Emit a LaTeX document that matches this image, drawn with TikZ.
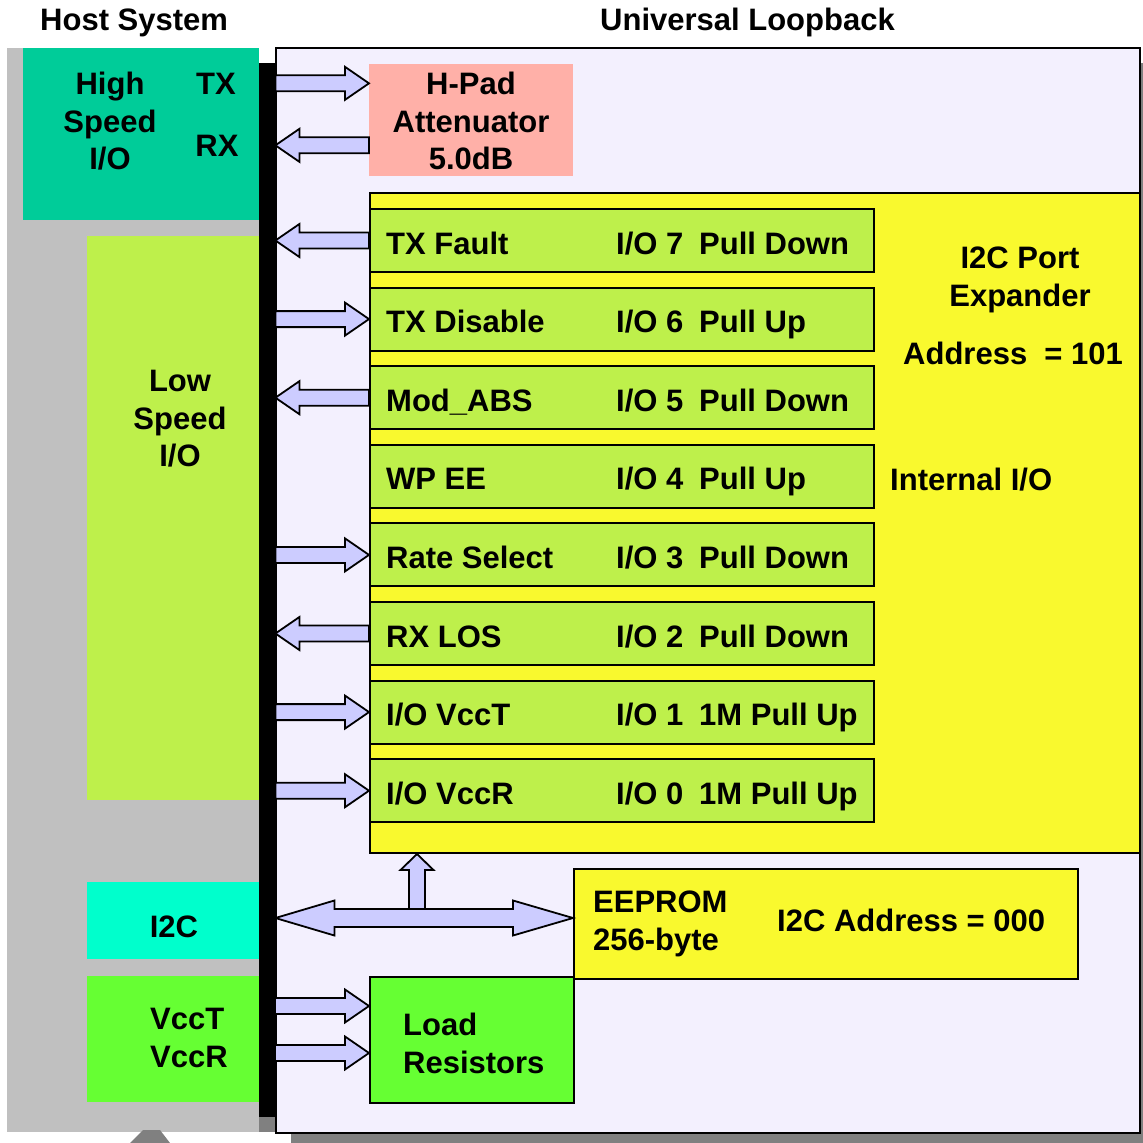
\documentclass[tikz,border=0pt]{standalone}
\usepackage{fontspec}
\setmainfont{Liberation Sans}
\usetikzlibrary{calc}

\definecolor{hostgray}{HTML}{C0C0C0}
\definecolor{shadowgray}{HTML}{808080}
\definecolor{hsio}{HTML}{00CC99}
\definecolor{lsio}{HTML}{BEF04B}
\definecolor{i2cteal}{HTML}{00FFCC}
\definecolor{powergreen}{HTML}{66FF33}
\definecolor{loopback}{HTML}{F3F0FE}
\definecolor{arrowfill}{HTML}{CCCCFF}
\definecolor{padpink}{HTML}{FFB0A8}
\definecolor{chipyellow}{HTML}{F9F92E}

% fat arrow between two points, optional head length
\newcommand\blockarrow[3][24]{%
  \draw[blockarrow] let \p1=(#2), \p2=(#3),
    \n1={atan2(\y2-\y1,\x2-\x1)}, \n2={veclen(\x2-\x1,\y2-\y1)} in
    [shift={(\p1)}, rotate=\n1]
    (0,-8) -- (\n2-#1,-8) -- (\n2-#1,-16.5) -- (\n2,0)
    -- (\n2-#1,16.5) -- (\n2-#1,8) -- (0,8) -- cycle;}
% same with a head at both ends
\newcommand\dblockarrow[2]{%
  \draw[blockarrow] let \p1=(#1), \p2=(#2),
    \n1={atan2(\y2-\y1,\x2-\x1)}, \n2={veclen(\x2-\x1,\y2-\y1)} in
    [shift={(\p1)}, rotate=\n1]
    (0,0) -- (59,-17.5) -- (59,-9) -- (\n2-60,-9) -- (\n2-60,-17.5) -- (\n2,0)
    -- (\n2-60,17.5) -- (\n2-60,9) -- (59,9) -- (59,17.5) -- cycle;}

\begin{document}
\begin{tikzpicture}[x=1pt, y=-1pt,
    every node/.style={font=\bfseries\fontsize{31}{37.5}\selectfont, inner sep=0pt},
    box/.style={anchor=north west, minimum width=#1},
    outlined/.style={draw=black, line width=2pt},
    rowbox/.style={box=504, minimum height=63, fill=lsio, outlined},
    blockarrow/.style={fill=arrowfill, draw=black, line width=1.8pt, line join=miter},
  ]
  \clip (0,0) rectangle (1143,1143);

  % host side
  \node[box=252, minimum height=1084, fill=hostgray] (host) at (7,48) {};
  \node[box=236, minimum height=172, fill=hsio] (hsbox) at (23,48) {};
  \node[box=172, minimum height=564, fill=lsio] (lsbox) at (87,236) {};
  \node[box=172, minimum height=77, fill=i2cteal] (i2cbox) at (87,882) {};
  \node[box=172, minimum height=126, fill=powergreen] (pwrbox) at (87,976) {};
  \fill[shadowgray] (130,1143) -- (143,1130) -- (160,1130) -- (170,1143) -- cycle;

  % loopback board
  \fill[shadowgray] (291,63) rectangle (1160,1150);
  \fill[shadowgray] (259,79) rectangle (275,1132);
  \node[box=864, minimum height=1085, fill=loopback, outlined] (board) at (275,47) {};
  \node[box=16, minimum height=1054, fill=black] (bus) at (259,63) {};

  \node[box=204, minimum height=112, fill=padpink] (hpad) at (369,64) {};
  \node[box=770, minimum height=660, fill=chipyellow, outlined] (expander) at (369,192) {};
  \node[box=504, minimum height=110, fill=chipyellow, outlined] (eeprom) at (573,868) {};
  \node[box=204, minimum height=126, fill=powergreen, outlined] (load) at (369,976) {};

  \foreach \sig/\pin/\pull [count=\i from 0] in {
      TX Fault/7/Pull Down, TX Disable/6/Pull Up, Mod\_ABS/5/Pull Down,
      WP EE/4/Pull Up, Rate Select/3/Pull Down, RX LOS/2/Pull Down,
      {I/O VccT}/1/1M Pull Up, {I/O VccR}/0/1M Pull Up} {
    \node[rowbox] (row\i) at (369,{208+78.6*\i}) {};
    \node[anchor=base west] (sig\i) at (386,{254+78.6*\i}) {\sig};
    \node[anchor=base west] (pin\i) at (616,{254+78.6*\i}) {I/O \pin};
    \node[anchor=base west] (pull\i) at (699,{254+78.6*\i}) {\pull};
  }

  % labels
  \node[anchor=base west] (hosttitle) at (40,30) {Host System};
  \node[anchor=base west] (looptitle) at (600,30) {Universal Loopback};
  \node[anchor=north, align=center] (hslbl) at (110,72) {High\\Speed\\I/O};
  \node[anchor=base] (txlbl) at (216,94) {TX};
  \node[anchor=base] (rxlbl) at (217,156) {RX};
  \node[anchor=north, align=center] (lslbl) at (180,370) {Low\\Speed\\I/O};
  \node[anchor=base] (i2clbl) at (174,937) {I2C};
  \node[anchor=north west, align=left] (pwrlbl) at (150,1008) {VccT\\VccR};
  \node[anchor=north, align=center] (hpadlbl) at (471,72) {H-Pad\\Attenuator\\5.0dB};
  \node[anchor=north, align=center] (explbl) at (1020,247) {I2C Port\\Expander};
  \node[anchor=base west] (expaddr) at (903,364) {Address\ \ = 101};
  \node[anchor=base west] (intio) at (890,490) {Internal I/O};
  \node[anchor=north west, align=left] (eepromlbl) at (593,891) {EEPROM\\256-byte};
  \node[anchor=base west] (eepromaddr) at (777,931) {I2C Address = 000};
  \node[anchor=north west, align=left] (loadlbl) at (403,1013) {Load\\Resistors};

  % connections
  \coordinate (tap) at (417,918);
  \coordinate (vcct) at (275,1006);
  \coordinate (vccr) at (275,1053);
  \blockarrow{bus.east |- txlbl}{hpad.west |- txlbl}
  \blockarrow{hpad.west |- rxlbl}{bus.east |- rxlbl}
  \foreach \i in {0,2,5} {\blockarrow{row\i.west}{bus.east |- row\i.west}}
  \foreach \i in {1,4,6,7} {\blockarrow{bus.east |- row\i.west}{row\i.west}}
  \blockarrow[16]{tap}{expander.south -| tap}
  \dblockarrow{bus.east |- tap}{eeprom.west |- tap}
  \blockarrow{vcct}{load.west |- vcct}
  \blockarrow{vccr}{load.west |- vccr}
\end{tikzpicture}
\end{document}
